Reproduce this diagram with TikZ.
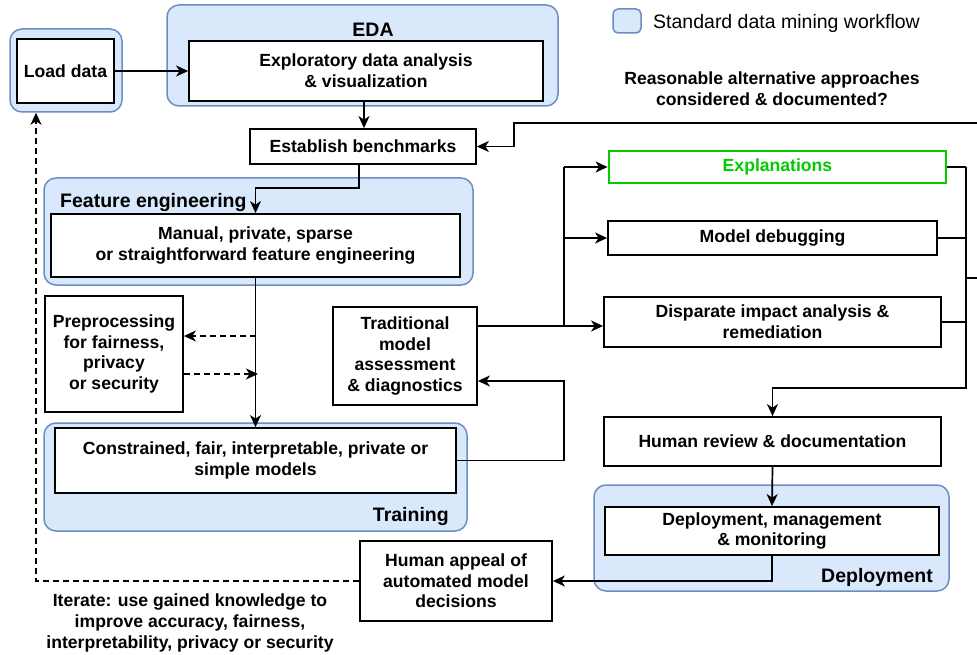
\documentclass[tikz,border=0pt]{standalone}
\usepackage{fontspec}
\setmainfont{Liberation Sans}
\usetikzlibrary{arrows.meta,calc}
\definecolor{grpfill}{HTML}{DAE8FC}
\definecolor{grpdraw}{HTML}{6C8EBF}
\definecolor{explgreen}{HTML}{00CC00}
\begin{document}
\begin{tikzpicture}[x=1pt,y=-1pt,
  grp/.style={draw=grpdraw,fill=grpfill,line width=1.5pt,rounded corners=12pt,minimum width=#1},
  box/.style={draw=black,fill=white,line width=1.8pt,align=center,inner sep=0pt,
    font=\bfseries\fontsize{17.6}{20.7}\selectfont},
  ttl/.style={font=\bfseries\fontsize{19.5}{23}\selectfont,inner sep=0pt},
  conn/.style={line width=1.7pt},
  arr/.style={conn,-{Stealth[length=12pt,width=11pt,inset=3.5pt]}},
  dsh/.style={dash pattern=on 6pt off 4pt}
]
\useasboundingbox (0,0) rectangle (977,655);
% groups
\node[grp=112pt,minimum height=83pt] (loadouter) at (66,70.5) {};
\node[grp=391pt,minimum height=101pt] (edagrp) at (362.5,55.5) {};
\node[grp=429pt,minimum height=107pt] (fegrp) at (258.5,231.5) {};
\node[grp=423pt,minimum height=108pt] (trgrp) at (255.5,477) {};
\node[grp=355pt,minimum height=106pt] (depgrp) at (771.5,538) {};
\node[draw=grpdraw,fill=grpfill,line width=1.5pt,rounded corners=5pt,minimum width=28pt,minimum height=24pt] (leg) at (627,21) {};
% group titles
\node[ttl] (edat) at (373,30) {EDA};
\node[ttl,anchor=west] (fet) at (60,203) {Feature engineering};
\node[ttl,anchor=east] (trt) at (449,516) {Training};
\node[ttl,anchor=east] (dept) at (933,577) {Deployment};
\node[anchor=west,inner sep=0pt,font=\fontsize{19.5}{23}\selectfont] (legt) at (653,23) {Standard data mining workflow};
% boxes
\node[box,minimum width=97pt,minimum height=64pt] (load) at (65.5,71) {Load data};
\node[box,minimum width=354pt,minimum height=60pt] (eda) at (366,71) {Exploratory data analysis\\\& visualization};
\node[box,minimum width=226pt,minimum height=35pt] (bench) at (363,146.5) {Establish benchmarks};
\node[box,minimum width=409pt,minimum height=63pt] (fe) at (255.5,245.5) {Manual, private, sparse\\or straightforward feature engineering};
\node[box,minimum width=138pt,minimum height=116pt] (pre) at (114,354) {Preprocessing\\for fairness,\\privacy\\or security};
\node[box,minimum width=401pt,minimum height=65pt] (tr) at (255.5,460.5) {Constrained, fair, interpretable, private or\\simple models};
\node[box,minimum width=144pt,minimum height=98pt] (trad) at (405,356) {Traditional\\model\\assessment\\\& diagnostics};
\node[box,draw=explgreen,text=explgreen,line width=2.8pt,minimum width=337pt,minimum height=32pt] (expl) at (777.5,167) {Explanations};
\node[box,minimum width=329pt,minimum height=34pt] (dbg) at (772.5,238) {Model debugging};
\node[box,minimum width=337pt,minimum height=50pt] (disp) at (772.5,322) {Disparate impact analysis \&\\remediation};
\node[box,minimum width=337pt,minimum height=49pt] (rev) at (772.5,441.5) {Human review \& documentation};
\node[box,minimum width=334pt,minimum height=48pt] (dep) at (772,531) {Deployment, management\\\& monitoring};
\node[box,minimum width=192pt,minimum height=80pt] (appeal) at (456,581) {Human appeal of\\automated model\\decisions};
% free texts
\node[align=center,inner sep=0pt,font=\bfseries\fontsize{17.6}{20.7}\selectfont] (reas) at (772,89) {Reasonable alternative approaches\\considered \& documented?};
\node[align=center,inner sep=0pt,font=\bfseries\fontsize{17.6}{20.7}\selectfont] (iter) at (190,623) {Iterate: use gained knowledge to\\improve accuracy, fairness,\\interpretability, privacy or security};
% coordinates
\coordinate (fbend) at (359,188);
\coordinate (d1) at (256,336);
\coordinate (d2) at (258,374);
\coordinate (j1) at (564,326);
\coordinate (j2) at (564,381);
\coordinate (j3) at (564,238);
\coordinate (j4) at (564,167);
\coordinate (bustop) at (966,167);
\coordinate (busbot) at (966,388);
\coordinate (busout) at (966,278);
\coordinate (edge1) at (977,278);
\coordinate (edge2) at (977,123);
\coordinate (rb) at (514,123);
\coordinate (c1) at (36,581);
% connectors
\draw[arr] (load.east) -- (eda.west);
\draw[arr] (eda.south -| bench.north) ++(1,0) coordinate (es) -- (es |- bench.north);
\draw[arr] (bench.south -| fbend) -- (fbend) -| (fe.north);
\draw[arr] (fe.south) -- (tr.north);
\draw[arr,dsh] (d1) -- (d1 -| pre.east);
\draw[arr,dsh] (d2 -| pre.east) -- (d2);
\draw[arr] (tr.east) -| (j2) -- (j2 -| trad.east);
\draw[arr] (j1 -| trad.east) -- (j1 -| disp.west);
\draw[conn] (j1) -- (j4);
\draw[arr] (j4) -- (expl.west);
\draw[arr] (j3) -- (dbg.west);
\draw[conn] (expl.east) -- (bustop);
\draw[conn] (dbg.east) -- (dbg.east -| bustop);
\draw[conn] (disp.east) -- (disp.east -| bustop);
\draw[conn] (busout) -- (edge1);
\draw[arr] (bustop) -- (busbot) -| (rev.north);
\draw[arr] (edge2) -- (rb) |- (bench.east);
\draw[arr] (rev.south) -- (dep.north);
\draw[arr] (dep.south) |- (appeal.east);
\draw[arr,dsh] (appeal.west) -- (c1) -- (c1 |- loadouter.south);
\end{tikzpicture}
\end{document}
